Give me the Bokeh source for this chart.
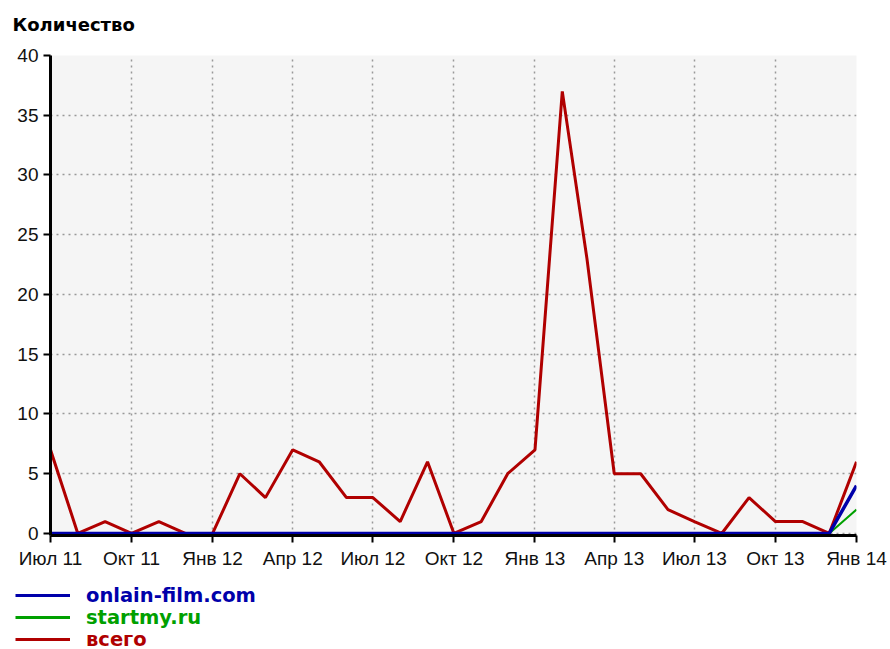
from datetime import date
from bokeh.plotting import figure
from bokeh.layouts import column
from bokeh.models import Range1d, FixedTicker, Legend, LegendItem, Label
from bokeh.embed import file_html
from bokeh.resources import INLINE

# ---- data ----
months = ["2011-07", "2011-08", "2011-09", "2011-10", "2011-11", "2011-12",
          "2012-01", "2012-02", "2012-03", "2012-04", "2012-05", "2012-06",
          "2012-07", "2012-08", "2012-09", "2012-10", "2012-11", "2012-12",
          "2013-01", "2013-02", "2013-03", "2013-04", "2013-05", "2013-06",
          "2013-07", "2013-08", "2013-09", "2013-10", "2013-11", "2013-12",
          "2014-01"]
vsego = [7, 0, 1, 0, 1, 0, 0, 5, 3, 7, 6, 3, 3, 1, 6, 0, 1, 5, 7, 37, 23,
         5, 5, 2, 1, 0, 3, 1, 1, 0, 6]
onlain_film = [0, 0, 0, 0, 0, 0, 0, 0, 0, 0, 0, 0, 0, 0, 0, 0, 0, 0, 0, 0,
               0, 0, 0, 0, 0, 0, 0, 0, 0, 0, 4]
startmy = [0, 0, 0, 0, 0, 0, 0, 0, 0, 0, 0, 0, 0, 0, 0, 0, 0, 0, 0, 0,
           0, 0, 0, 0, 0, 0, 0, 0, 0, 0, 2]
tick_months = ["2011-07", "2011-10", "2012-01", "2012-04", "2012-07", "2012-10",
               "2013-01", "2013-04", "2013-07", "2013-10", "2014-01"]
tick_labels = ["Июл 11", "Окт 11", "Янв 12", "Апр 12", "Июл 12", "Окт 12",
               "Янв 13", "Апр 13", "Июл 13", "Окт 13", "Янв 14"]
y_ticks = [0, 5, 10, 15, 20, 25, 30, 35, 40]
series_names = ["onlain-film.com", "startmy.ru", "всего"]
title_text = "Количество"

START = date(2011, 7, 1)


def day_of(m):
    return (date(int(m[:4]), int(m[5:7]), 1) - START).days


x = [day_of(m) for m in months]
tick_x = [day_of(m) for m in tick_months]

RED = "#b00000"
BLUE = "#0000aa"
GREEN = "#00a000"
NAN = float("nan")


def blank_strip(h):
    f = figure(width=890, height=h, output_backend="svg", toolbar_location=None,
               x_range=Range1d(0, 890), y_range=Range1d(0, h),
               min_border_left=0, min_border_right=0, min_border_top=0,
               min_border_bottom=0, x_axis_location=None, y_axis_location=None)
    f.outline_line_color = None
    f.grid.visible = False
    f.background_fill_color = "white"
    f.border_fill_color = "white"
    f.frame_align = False
    return f


# ---------------- header (title) ----------------
head = blank_strip(40)
head.add_layout(Label(x=12, y=16.3, x_units="screen", y_units="screen",
                      text=title_text, text_font="DejaVu Sans",
                      text_font_style="bold", text_font_size="18px",
                      text_color="black", text_baseline="alphabetic"))

# ---------------- main chart ----------------
p = figure(width=890, height=535, output_backend="svg", toolbar_location=None,
           x_range=Range1d(x[0], x[-1]), y_range=Range1d(-0.17, 40),
           min_border_left=50, min_border_right=34, min_border_top=15,
           min_border_bottom=40)
p.frame_align = False
p.background_fill_color = "#f5f5f5"
p.border_fill_color = "white"
p.outline_line_color = None

r_red = p.line(x, vsego, line_color=RED, line_width=3)
r_green = p.line(x, startmy, line_color=GREEN, line_width=2)
r_blue = p.line(x, onlain_film, line_color=BLUE, line_width=3.5)

p.xaxis.ticker = FixedTicker(ticks=tick_x)
p.xaxis.major_label_overrides = dict(zip(tick_x, tick_labels))
p.yaxis.ticker = FixedTicker(ticks=y_ticks)
for ax in (p.xaxis[0], p.yaxis[0]):
    ax.axis_line_width = 3
    ax.axis_line_color = "black"
    ax.major_tick_line_width = 2
    ax.major_tick_line_color = "black"
    ax.major_tick_in = 0
    ax.major_tick_out = 7
    ax.minor_tick_line_color = None
    ax.major_label_text_font = "Liberation Sans"
    ax.major_label_text_font_size = "19px"
    ax.major_label_text_color = "#111111"
p.xaxis.major_label_standoff = 5
p.yaxis.major_label_standoff = 5

p.xgrid.ticker = FixedTicker(ticks=tick_x)
p.ygrid.ticker = FixedTicker(ticks=y_ticks)
for g in (p.xgrid[0], p.ygrid[0]):
    g.grid_line_color = "#999999"
    g.grid_line_dash = "2 4"
    g.grid_line_width = 1.5

# ---------------- legend strip ----------------
leg = blank_strip(74)
swatches = [leg.line([NAN], [NAN], line_color=BLUE, line_width=3),
            leg.line([NAN], [NAN], line_color=GREEN, line_width=3),
            leg.line([NAN], [NAN], line_color=RED, line_width=3)]

for name, rend, col, vy in [(series_names[0], swatches[0], BLUE, 42),
                            (series_names[1], swatches[1], GREEN, 20),
                            (series_names[2], swatches[2], RED, -2)]:
    lg = Legend(items=[LegendItem(label=name, renderers=[rend])],
                location=(15, vy), glyph_width=55, glyph_height=24,
                label_height=24, label_standoff=16, padding=0, margin=0,
                spacing=0, border_line_color=None, background_fill_alpha=0,
                label_text_color=col, label_text_font="DejaVu Sans",
                label_text_font_style="bold", label_text_font_size="19.5px",
                label_text_baseline="middle")
    leg.add_layout(lg, "center")

layout = column(head, p, leg, spacing=0)
open("out.html", "w").write(file_html(layout, INLINE))
